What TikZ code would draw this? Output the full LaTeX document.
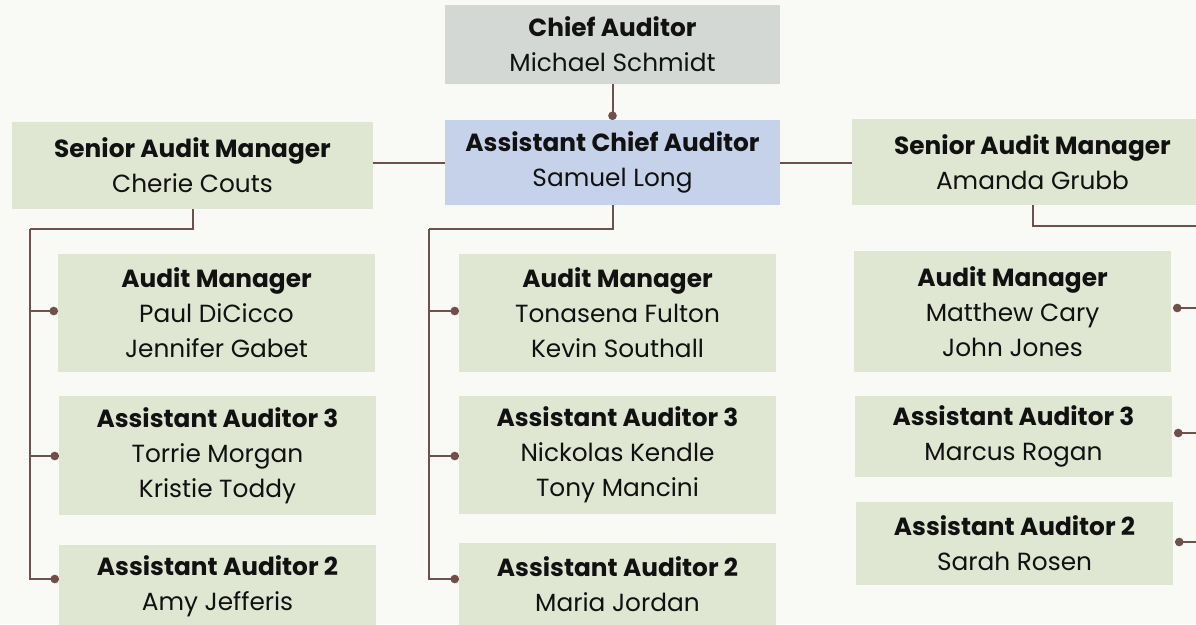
\documentclass[tikz,border=0pt]{standalone}
\usepackage{fontspec}
\setmainfont{Poppins}
\usetikzlibrary{arrows.meta}
\definecolor{bgc}{HTML}{F9F9F5}
\definecolor{boxgreen}{HTML}{DFE6D2}
\definecolor{boxgray}{HTML}{D4D8D4}
\definecolor{boxblue}{HTML}{C6D2EA}
\definecolor{linec}{HTML}{6F504B}
\definecolor{textc}{HTML}{111111}
\begin{document}
\begin{tikzpicture}[x=1pt,y=-1pt,
  box/.style={inner sep=0pt, outer sep=0pt, align=center, text=textc, fill=boxgreen,
              font=\fontsize{24.8}{35}\selectfont},
  wh/.style 2 args={minimum width=#1pt, minimum height=#2pt},
  conn/.style={draw=linec, line width=2pt},
  dotend/.style={conn, -{Circle[length=8.5pt,width=8.5pt]}}]
\useasboundingbox (0,0) rectangle (1196,624);
\fill[bgc] (0,0) rectangle (1196,624);
\clip (0,0) rectangle (1196,624);

% nodes
\node[box, fill=boxgray, wh={335}{79}] (chief) at (612.5,44.5) {\textbf{Chief Auditor}\\Michael Schmidt};
\node[box, fill=boxblue, wh={335}{85}] (achief) at (612.5,162.5) {\textbf{Assistant Chief Auditor}\\Samuel Long};
\node[box, wh={361}{87}] (senL) at (192.5,165.5) {\textbf{Senior Audit Manager}\\Cherie Couts};
\node[box, wh={361}{86}] (senR) at (1032.5,162) {\textbf{Senior Audit Manager}\\Amanda Grubb};

\node[box, wh={317}{118}] (amL) at (216.5,313) {\textbf{Audit Manager}\\Paul DiCicco\\Jennifer Gabet};
\node[box, wh={317}{119}] (aa3L) at (217.5,455.5) {\textbf{Assistant Auditor 3}\\Torrie Morgan\\Kristie Toddy};
\node[box, wh={317}{83}] (aa2L) at (217.5,586.5) {\textbf{Assistant Auditor 2}\\Amy Jefferis};

\node[box, wh={317}{118}] (amM) at (617.5,313) {\textbf{Audit Manager}\\Tonasena Fulton\\Kevin Southall};
\node[box, wh={317}{118}] (aa3M) at (617.5,455) {\textbf{Assistant Auditor 3}\\Nickolas Kendle\\Tony Mancini};
\node[box, wh={317}{83}] (aa2M) at (617.5,584.5) {\textbf{Assistant Auditor 2}\\Maria Jordan};

\node[box, wh={317}{121}] (amR) at (1012.5,311.5) {\textbf{Audit Manager}\\Matthew Cary\\John Jones};
\node[box, wh={317}{81}] (aa3R) at (1013.5,436.5) {\textbf{Assistant Auditor 3}\\Marcus Rogan};
\node[box, wh={317}{83}] (aa2R) at (1014.5,543.5) {\textbf{Assistant Auditor 2}\\Sarah Rosen};

% bus points
\coordinate (busL) at (30,229);
\coordinate (busM) at (429,229);
\coordinate (busR) at (1215,226);

% connectors
\draw[dotend] (chief.south) -- (achief.north);
\draw[conn] (achief.west) -- (achief.west -| senL.east);
\draw[conn] (achief.east) -- (achief.east -| senR.west);

\draw[conn] (senL.south) |- (busL);
\draw[dotend] (busL) |- ([yshift=2pt]amL.west);
\draw[dotend] (busL) |- ([yshift=-0.5pt]aa3L.west);
\draw[dotend] (busL) |- ([yshift=7.5pt]aa2L.west);

\draw[conn] (achief.south) |- (busM);
\draw[dotend] (busM) |- ([yshift=2pt]amM.west);
\draw[dotend] (busM) |- ([yshift=-1pt]aa3M.west);
\draw[dotend] (busM) |- ([yshift=5.5pt]aa2M.west);

\draw[conn] (senR.south) |- (busR);
\draw[dotend] (busR) |- ([xshift=2pt,yshift=3.5pt]amR.east);
\draw[dotend] (busR) |- ([xshift=2pt,yshift=3.5pt]aa3R.east);
\draw[dotend] (busR) |- ([xshift=2pt,yshift=1.5pt]aa2R.east);
\end{tikzpicture}
\end{document}
